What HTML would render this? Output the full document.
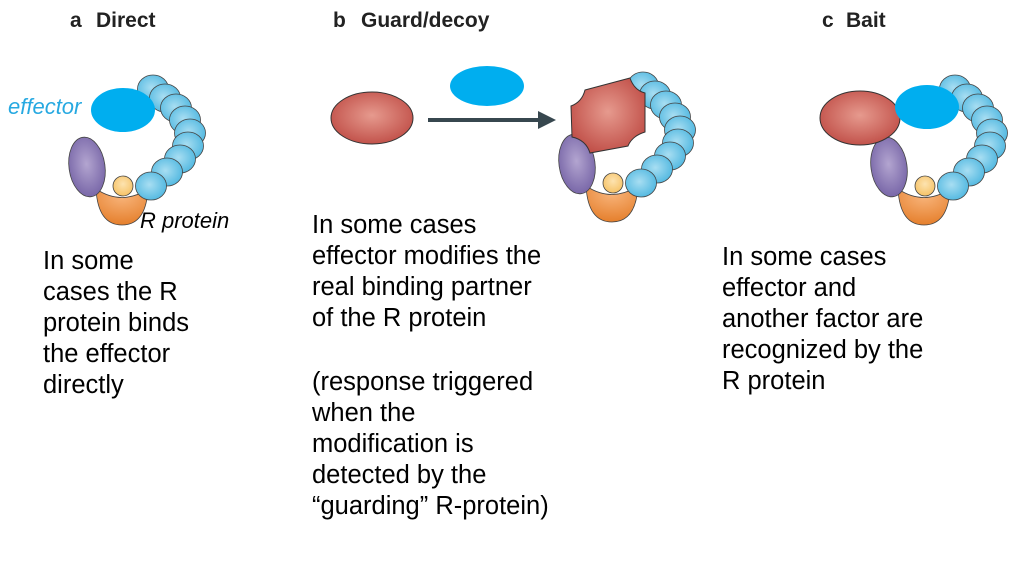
<!DOCTYPE html>
<html><head><meta charset="utf-8"><style>
body{margin:0;background:#fff;width:1014px;height:564px;overflow:hidden}
svg{display:block}
.h{font-family:"Liberation Sans",sans-serif;font-weight:bold;font-size:21px;fill:#222}
.t{font-family:"Liberation Sans",sans-serif;font-size:25.5px;fill:#000}
</style></head><body>
<svg id="s" width="1014" height="564" viewBox="0 0 1014 564">
<defs>
<radialGradient id="gb" cx="0.45" cy="0.45" r="0.6"><stop offset="0" stop-color="#a8def2"/><stop offset="1" stop-color="#4fb7e0"/></radialGradient>
<radialGradient id="gp" cx="0.5" cy="0.45" r="0.6"><stop offset="0" stop-color="#b3a5d0"/><stop offset="1" stop-color="#7462a5"/></radialGradient>
<radialGradient id="go" cx="0.5" cy="0.2" r="0.8"><stop offset="0" stop-color="#f8b47a"/><stop offset="1" stop-color="#e57f2c"/></radialGradient>
<radialGradient id="gy" cx="0.5" cy="0.4" r="0.6"><stop offset="0" stop-color="#fde3b0"/><stop offset="1" stop-color="#f6c266"/></radialGradient>
<radialGradient id="gr" cx="0.5" cy="0.45" r="0.6"><stop offset="0" stop-color="#e69a8e"/><stop offset="1" stop-color="#bf4c45"/></radialGradient>
</defs>
<g><text class="h" x="70" y="27">a</text><text class="h" x="96" y="27">Direct</text></g>
<g><text class="h" x="333" y="27">b</text><text class="h" x="361" y="27">Guard/decoy</text></g>
<g><text class="h" x="822" y="27">c</text><text class="h" x="846" y="27">Bait</text></g>

<g id="ra"></g>
<g id="rb"></g>
<g id="rc"></g>

<ellipse cx="123" cy="110" rx="32" ry="22" fill="#00aeef"/>
<text x="8" y="114" font-family="Liberation Sans,sans-serif" font-style="italic" font-size="22" fill="#27a9e1">effector</text>
<text x="140" y="228" font-family="Liberation Sans,sans-serif" font-style="italic" font-size="22" fill="#000">R protein</text>

<ellipse cx="372" cy="118" rx="41" ry="26" fill="url(#gr)" stroke="#333" stroke-width="1"/>
<ellipse cx="487" cy="86" rx="37" ry="20" fill="#00aeef"/>
<g><line x1="428" y1="120" x2="540" y2="120" stroke="#37474f" stroke-width="4"/><polygon points="538,111 556,120 538,129" fill="#37474f"/></g>
<path d="M585 90 L630 78 Q634 90 645 93 L645 132 Q632 136 628 146 L590 153 Q586 140 572 137 L571 106 Q582 102 585 90Z" fill="url(#gr)" stroke="#333" stroke-width="1"/>

<ellipse cx="860" cy="118" rx="40" ry="27" fill="url(#gr)" stroke="#333" stroke-width="1"/>
<ellipse cx="927" cy="107" rx="32" ry="22" fill="#00aeef"/>

<text class="t"><tspan x="43" y="269">In some</tspan><tspan x="43" y="300">cases the R</tspan><tspan x="43" y="331">protein binds</tspan><tspan x="43" y="362">the effector</tspan><tspan x="43" y="393">directly</tspan></text>
<text class="t"><tspan x="312" y="233">In some cases</tspan><tspan x="312" y="264">effector modifies the</tspan><tspan x="312" y="295">real binding partner</tspan><tspan x="312" y="326">of the R protein</tspan><tspan x="312" y="390">(response triggered</tspan><tspan x="312" y="421">when the</tspan><tspan x="312" y="452">modification is</tspan><tspan x="312" y="483">detected by the</tspan><tspan x="312" y="514">“guarding” R-protein)</tspan></text>
<text class="t"><tspan x="722" y="265">In some cases</tspan><tspan x="722" y="296">effector and</tspan><tspan x="722" y="327">another factor are</tspan><tspan x="722" y="358">recognized by the</tspan><tspan x="722" y="389">R protein</tspan></text>
</svg>
<script>
var beads=[[153,89],[165,98],[176,108],[185,120],[190,133],[188,146],[180,159],[167,172],[151,186]];
var NS="http://www.w3.org/2000/svg";
function mk(t,a,p){var e=document.createElementNS(NS,t);for(var k in a)e.setAttribute(k,a[k]);p.appendChild(e);return e;}
function draw(id,dx,dy){
 var g=document.getElementById(id);
 var cup=mk('path',{d:'M'+(96+dx)+' '+(189+dy)+' Q'+(122+dx)+' '+(206+dy)+' '+(148+dx)+' '+(189+dy)+' Q'+(146+dx)+' '+(225+dy)+' '+(122+dx)+' '+(225+dy)+' Q'+(98+dx)+' '+(225+dy)+' '+(96+dx)+' '+(189+dy)+'Z',fill:'url(#go)',stroke:'#444','stroke-width':0.8},g);
 
 
 var y=mk('circle',{cx:123+dx,cy:186+dy,r:10,fill:'url(#gy)',stroke:'#444','stroke-width':0.8},g);
 
 
 var p=mk('ellipse',{cx:87+dx,cy:167+dy,rx:18,ry:30,fill:'url(#gp)',stroke:'#444','stroke-width':0.8,transform:'rotate(-8 '+(87+dx)+' '+(167+dy)+')'},g);
 
 
 for(var i=0;i<beads.length;i++){
  var b=mk('ellipse',{cx:beads[i][0]+dx,cy:beads[i][1]+dy,rx:15.5,ry:14,fill:'url(#gb)',stroke:'#444','stroke-width':0.8},g);
  
  
 }
}
draw('ra',0,0);draw('rb',490,-3);draw('rc',802,0);
</script>
</body></html>
